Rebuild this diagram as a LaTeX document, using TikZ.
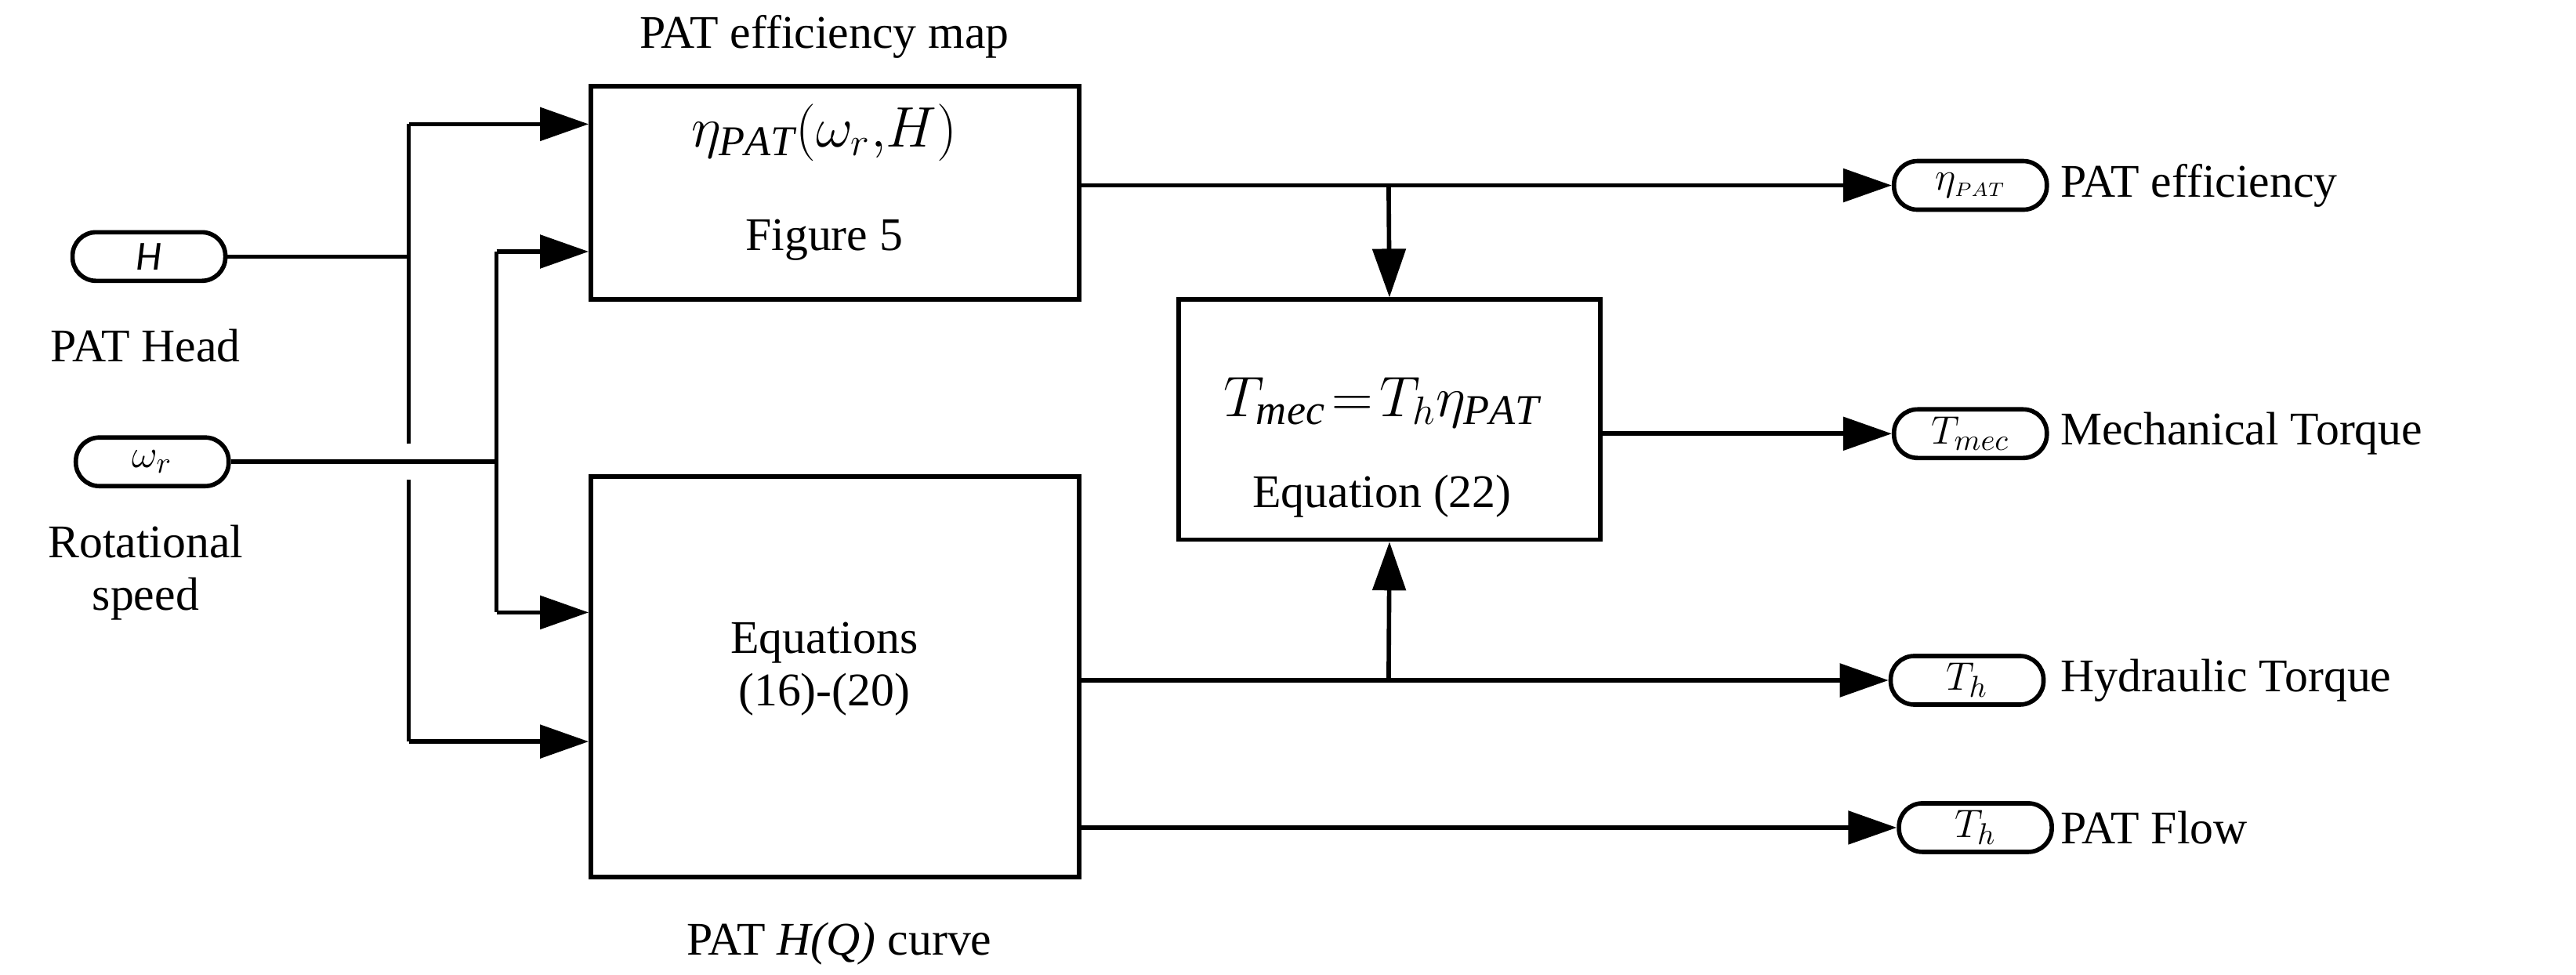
\documentclass[tikz,border=0pt]{standalone}
\usepackage{fontspec}
\setmainfont{Liberation Serif}
\newfontfamily\pillfont{Carlito}
\usetikzlibrary{arrows.meta}
\begin{document}
\begin{tikzpicture}[x=0.02112cm,y=-0.02112cm,
  line width=1.6pt,
  arr/.style={-{Triangle[length=0.62cm,width=0.42cm]}},
  blk/.style={draw,line width=1.6pt,inner sep=0},
  pill/.style={draw,line width=1.6pt,rounded corners=0.3cm,minimum width=1.95cm,minimum height=0.62cm,inner sep=0,font=\pillfont\fontsize{15}{15}\selectfont\itshape},
  lbl/.style={font=\fontsize{17}{19}\selectfont,align=center},
  big/.style={font=\fontsize{22}{24}\selectfont}]
\useasboundingbox (0,0) rectangle (1556.4,589);
% blocks
\node[blk,minimum width=295*0.02112cm,minimum height=129*0.02112cm] (b1) at (504.5,116.5) {};
\node[blk,minimum width=295*0.02112cm,minimum height=242*0.02112cm] (b2) at (504.5,409) {};
\node[blk,minimum width=255*0.02112cm,minimum height=145*0.02112cm] (b3) at (839.5,253.5) {};
\node[lbl] (t1) at (498,22) {PAT efficiency map};
\node[big] (e1) at (498,80) {$\eta_{\mathit{PAT}}(\omega_r,\!H)$};
\node[lbl] (f5) at (498,145) {Figure 5};
\node[lbl] (e2) at (498,404) {Equations\\(16)-(20)};
\node[lbl] (t2) at (507,570) {PAT \textit{H(Q)} curve};
\node[big] (e3) at (835,243) {$T_{\mathit{mec}}\!=\!T_h\eta_{\mathit{PAT}}$};
\node[lbl] (eq22) at (835,300) {Equation (22)};
% input pills
\node[pill] (H) at (90,155) {H};
\node[lbl] (Hl) at (88,209) {PAT Head};
\node[pill] (w) at (92,279) {$\omega_r$};
\node[lbl] (wl) at (88,346) {Rotational\\speed};
% output pills
\node[pill,anchor=west] (o1) at (1143,112) {$\eta_{\scriptscriptstyle PAT}$};
\node[pill,anchor=west] (o2) at (1143,262) {$T_{mec}$};
\node[pill,anchor=west] (o3) at (1141,411) {$T_h$};
\node[pill,anchor=west] (o4) at (1146,500) {$T_h$};
\node[lbl,anchor=west] (l1) at (1238,112) {PAT efficiency};
\node[lbl,anchor=west] (l2) at (1238,262) {Mechanical Torque};
\node[lbl,anchor=west] (l3) at (1238,411) {Hydraulic Torque};
\node[lbl,anchor=west] (l4) at (1238,500) {PAT Flow};
% coordinates
\coordinate (hb) at (247,155);
\coordinate (ht) at (247,75);
\coordinate (hg1) at (247,268);
\coordinate (hg2) at (247,290);
\coordinate (hbt) at (247,448);
\coordinate (wb) at (300,279);
\coordinate (wt) at (300,152);
\coordinate (wbt) at (300,370);
\coordinate (j1) at (839,112);
\coordinate (j2) at (839,411);
% connectors
\draw (H.east) -- (hb);
\draw (ht) -- (hg1);
\draw (hg2) -- (hbt);
\draw[arr] (ht) -- (ht -| b1.west);
\draw[arr] (hbt) -- (hbt -| b2.west);
\draw (w.east) -- (wb);
\draw (wt) -- (wbt);
\draw[arr] (wt) -- (wt -| b1.west);
\draw[arr] (wbt) -- (wbt -| b2.west);
\draw[arr] (b1.east |- j1) -- (o1.west);
\draw[arr] (j1) -- (b3.north);
\draw[arr] (b3.east |- o2) -- (o2.west);
\draw[arr] (b2.east |- j2) -- (o3.west);
\draw[arr] (j2) -- (b3.south);
\draw[arr] (b2.east |- o4) -- (o4.west);
\end{tikzpicture}
\end{document}
